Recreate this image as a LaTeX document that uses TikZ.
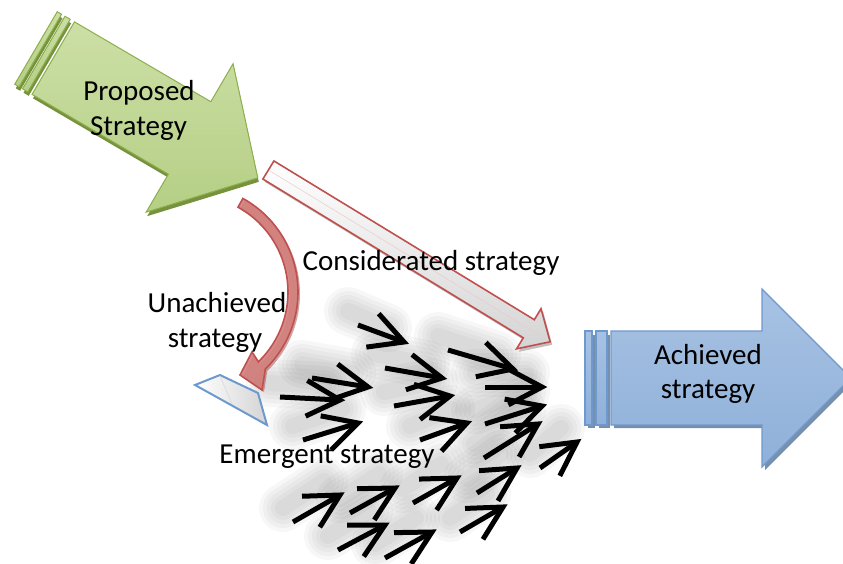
\documentclass[tikz,border=0pt]{standalone}
\usepackage{fontspec}
\setmainfont{Carlito}
\usetikzlibrary{arrows.meta}
\definecolor{grnTop}{HTML}{CCDFA6}
\definecolor{grnMid}{HTML}{A3C062}
\definecolor{grnBot}{HTML}{B5CF85}
\definecolor{grnLine}{HTML}{8DAE4C}
\definecolor{grnDark}{HTML}{76923C}
\definecolor{bluTop}{HTML}{A7C2E3}
\definecolor{bluMid}{HTML}{5487C3}
\definecolor{bluBot}{HTML}{8FB0D9}
\definecolor{bluLine}{HTML}{6D99CF}
\definecolor{bluDark}{HTML}{3E5F87}
\definecolor{redLine}{HTML}{C0504D}
\definecolor{redFill}{HTML}{D2807D}
\definecolor{redDark}{HTML}{943634}
\definecolor{greyFill}{HTML}{D4D4D4}
\begin{document}
\begin{tikzpicture}[x=1pt,y=-1pt,
  lbl/.style={anchor=base,inner sep=0pt,font=\fontsize{29}{35}\selectfont},
  sline/.style={line width=5pt,black},
  shead/.style={line width=5pt,black,line join=miter,miter limit=4},
  sshadow/.style={line cap=round,black,opacity=0.03},
  greenbody/.style={top color=grnTop,middle color=grnMid,bottom color=grnBot,draw=grnLine,line width=1pt},
  bluebody/.style={top color=bluTop,middle color=bluMid,bottom color=bluBot,draw=bluLine,line width=1.2pt},
  whitebody/.style={top color=white,bottom color=greyFill,draw=redLine,line width=1.6pt},
  curvebody/.style={fill=redFill,fill opacity=0.9,draw=redLine,line width=1.6pt},
  paral/.style={left color=white,right color=greyFill,draw=bluLine,line width=2pt}]
\useasboundingbox (0,0) rectangle (843,563);
\clip (0,0) rectangle (843,563);

\def\arrowlist{358/325/404/342, 280/397/340/400, 312/378/368/387, 303/440/358/423,
  385/368/442/378, 394/406/450/396, 420/440/467/423, 448/350/513/369, 485/387/542/387,
  485/424/542/406, 484/458/538/424, 540/468/577/442, 477/493/517/468, 413/503/457/478,
  350/513/395/488, 293/522/340/495, 460/532/503/507, 338/550/385/525, 385/558/432/532}

% ---- soft shadows of the emergent small arrows
\foreach \ax/\ay/\bx/\by in \arrowlist{
  \foreach \w in {48,40,32,24,16}{
    \draw[sshadow,line width=\w pt] (\ax-10,\ay-14) -- (\bx-16,\by-14);
  }
}

% ---- Proposed strategy (green striped arrow)
\begin{scope}[shift={(37,52)},rotate=-30.35]
  \fill[grnDark] (20,-42) -- (178,-42) -- (178,-86) -- (257,0) -- (178,86) -- (178,42) -- (20,42) -- cycle;
  \fill[grnDark] (0,-42) rectangle (5,42);
  \fill[grnDark] (9,-42) rectangle (15,42);
\end{scope}
\begin{scope}[shift={(36,48)},rotate=-30.35]
  \path[greenbody] (20,-42) -- (178,-42) -- (178,-86) -- (257,0) -- (178,86) -- (178,42) -- (20,42) -- cycle;
  \path[greenbody] (0,-42) rectangle (5,42);
  \path[greenbody] (9,-42) rectangle (15,42);
\end{scope}

% ---- Considerated strategy (white arrow, red outline)
\begin{scope}[shift={(270.5,173)},rotate=-31.37]
  \fill[black!25] (0,-10.6) -- (305,-10.6) -- (305,-23.5) -- (330,0) -- (305,23.5) -- (305,10.6) -- (0,10.6) -- cycle;
\end{scope}
\begin{scope}[shift={(268.4,170)},rotate=-31.37]
  \path[whitebody] (0,-10.6) -- (305,-10.6) -- (305,-23.5) -- (330,0) -- (305,23.5) -- (305,10.6) -- (0,10.6) -- cycle;
  \draw[redLine!30,line width=0.5pt] (2,0) -- (320,0);
\end{scope}

% ---- Unachieved strategy (curved red arrow)
\fill[redDark,opacity=0.45] ([shift={(193,294)}]-61:107) arc[start angle=-61,end angle=46,radius=107]
  -- (264,392) -- (242,377) -- (254,354) -- ([shift={(193,294)}]46:97)
  arc[start angle=46,end angle=-61,radius=97] -- cycle;
\path[curvebody] ([shift={(191,292)}]-61:107) arc[start angle=-61,end angle=46,radius=107]
  -- (262,390) -- (240,375) -- (252,352) -- ([shift={(191,292)}]46:97)
  arc[start angle=46,end angle=-61,radius=97] -- cycle;

% ---- small blue parallelogram
\path[paral] (195,385) -- (220,375) -- (258,393) -- (267,425) -- cycle;
\draw[black!15,line width=0.6pt] (220,376) -- (232,404);

% ---- Achieved strategy (blue striped arrow)
\fill[bluDark,opacity=0.7] (614,335) -- (765,335) -- (765,292) -- (854,381) -- (765,470) -- (765,428) -- (614,428) -- cycle;
\fill[bluDark,opacity=0.7] (588,335) rectangle (595,428);
\fill[bluDark,opacity=0.7] (599,335) rectangle (610,428);
\path[bluebody] (611,331) -- (762,331) -- (762,289) -- (851,378) -- (762,467) -- (762,425) -- (611,425) -- cycle;
\path[bluebody] (585,331) rectangle (592,425);
\path[bluebody] (596,331) rectangle (607,425);

% ---- emergent small arrows (open chevron heads)
\foreach \ax/\ay/\bx/\by in \arrowlist{
  \pgfmathsetmacro\ang{atan2(\by-\ay,\bx-\ax)}
  \draw[sline] (\ax,\ay) -- (\bx,\by);
  \draw[shead] (\bx,\by) ++(\ang+180-28:38) -- (\bx,\by) -- ++(\ang+180+28:38);
}

% ---- labels
\node[lbl] (prop1) at (139,100) {Proposed};
\node[lbl] (prop2) at (138.5,135) {Strategy};
\node[lbl] (cons) at (431,270) {Considerated strategy};
\node[lbl] (un1) at (217,312) {Unachieved};
\node[lbl] (un2) at (215,347) {strategy};
\node[lbl] (emer) at (327,463) {Emergent strategy};
\node[lbl] (ach1) at (708,364) {Achieved};
\node[lbl] (ach2) at (708,398) {strategy};
\end{tikzpicture}
\end{document}
